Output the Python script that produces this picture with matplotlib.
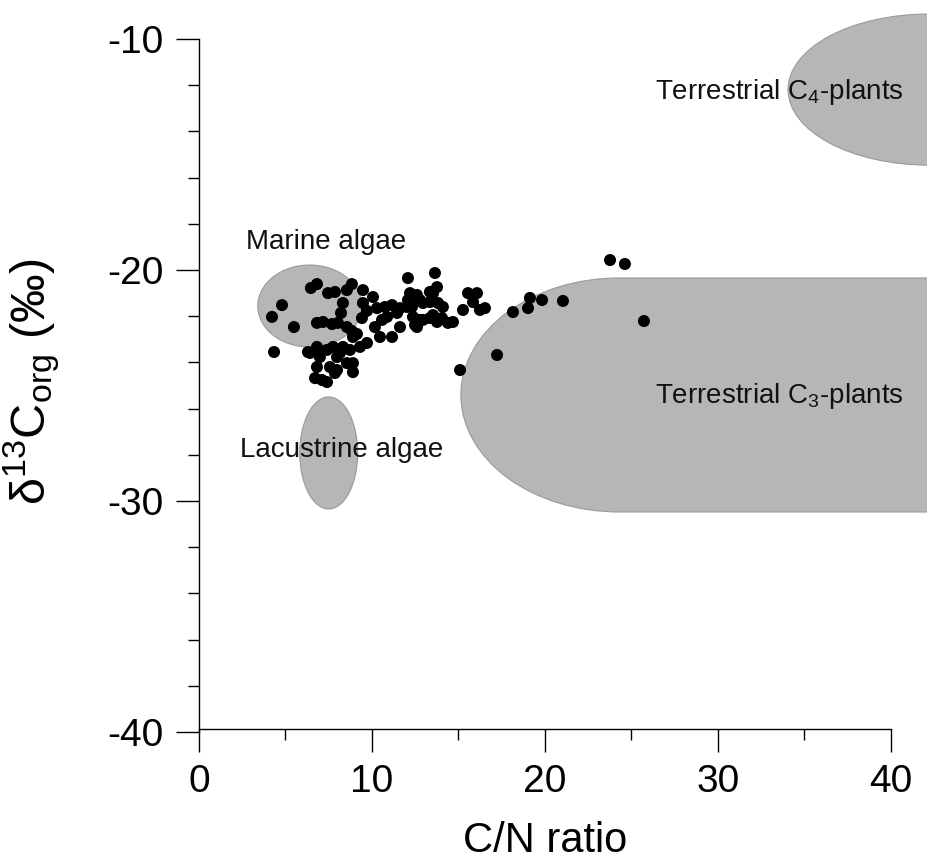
import matplotlib
matplotlib.use("Agg")
import matplotlib.pyplot as plt
from matplotlib.patches import Ellipse, PathPatch
from matplotlib.path import Path
from matplotlib.ticker import MultipleLocator
import numpy as np

plt.rcParams['font.family'] = ['Liberation Sans', 'DejaVu Sans']
plt.rcParams['mathtext.fontset'] = 'custom'
plt.rcParams['mathtext.rm'] = 'Liberation Sans'
plt.rcParams['mathtext.it'] = 'Liberation Sans'
plt.rcParams['axes.unicode_minus'] = False

# C/N ratio and d13C of the samples
cn_ratio = [
    6.47, 6.82, 4.80, 4.22, 5.49, 4.34, 7.46, 7.86, 8.84, 8.55,
    8.32, 8.21, 8.03, 6.82, 7.17, 7.69, 8.55, 8.84, 9.13, 9.48,
    9.48, 9.71, 9.42, 10.06, 10.29, 10.58, 10.17, 10.46, 8.90, 9.71,
    10.75, 11.16, 11.62, 12.02, 12.31, 10.87, 11.45, 12.08, 13.64, 12.20,
    12.08, 12.77, 13.35, 13.76, 13.53, 13.35, 12.95, 12.60, 12.37, 12.37,
    12.77, 13.53, 13.82, 14.10, 14.05, 13.76, 13.35, 12.95, 12.49, 14.39,
    14.68, 11.62, 11.16, 12.60, 15.55, 16.07, 15.84, 15.26, 16.24, 16.53,
    18.15, 17.23, 15.09, 19.13, 19.02, 19.83, 21.04, 23.76, 24.62, 25.72,
    6.42, 6.82, 6.99, 7.40, 7.75, 8.15, 8.55, 8.90, 6.82, 6.71,
    7.40, 7.98, 8.32, 8.73, 9.31, 7.57, 7.86, 8.90, 6.30, 7.11,
    7.98,
]
d13c = [
    -20.78, -20.61, -21.52, -22.03, -22.47, -23.55, -21.00, -20.95, -20.61, -20.87,
    -21.43, -21.86, -22.29, -22.29, -22.25, -22.34, -22.47, -22.64, -22.77, -20.87,
    -21.43, -21.77, -22.08, -21.17, -21.65, -22.16, -22.47, -22.90, -22.90, -23.16,
    -21.60, -21.52, -21.65, -21.60, -21.60, -22.03, -21.86, -20.35, -20.13, -21.00,
    -21.30, -21.30, -20.95, -20.74, -21.00, -21.39, -21.43, -21.08, -21.43, -22.03,
    -22.16, -21.95, -21.43, -21.60, -22.08, -22.25, -22.08, -22.16, -22.38, -22.29,
    -22.25, -22.47, -22.90, -22.47, -21.00, -21.00, -21.39, -21.73, -21.73, -21.65,
    -21.82, -23.68, -24.33, -21.21, -21.65, -21.30, -21.34, -19.57, -19.74, -22.21,
    -23.59, -23.33, -23.77, -23.46, -23.33, -23.59, -24.03, -24.42, -24.20, -24.68,
    -24.85, -24.33, -23.33, -23.46, -23.33, -24.20, -24.46, -24.03, -23.55, -24.76,
    -23.77,
]

# source fields: name, label position
field_labels = ["Marine algae", "Lacustrine algae",
                "Terrestrial C$_{4}$-plants", "Terrestrial C$_{3}$-plants"]
label_x = [7.37, 8.27, 26.36, 26.36]
label_y = [-18.79, -27.79, -12.29, -25.45]

x_major = [0, 10, 20, 30, 40]
y_major = [-40, -30, -20, -10]

fill = '#b6b6b6'
edge = '#9a9a9a'

fig = plt.figure(figsize=(9.28, 8.66), dpi=100)
ax = fig.add_axes([0.2144, 0.1547, 0.7845, 0.8323])
ax.set_xlim(0, 42.08)
ax.set_ylim(-40, -8.8)

# marine, lacustrine and C4 fields
ax.add_patch(Ellipse((6.4, -21.56), 6.0, 3.55, fc=fill, ec=edge, lw=0.8, zorder=1))
ax.add_patch(Ellipse((7.5, -27.92), 3.35, 4.85, fc=fill, ec=edge, lw=0.8, zorder=1))
ax.add_patch(Ellipse((42.2, -12.19), 16.3, 6.54, fc=fill, ec=edge, lw=0.8, zorder=1))

# C3 field: half ellipse on the left, open box to the right
cx, cy, rx, ry = 24.3, -25.41, 9.16, 5.065
arc = Path.arc(90, 270)
verts = [(cx + rx * vx, cy + ry * vy) for vx, vy in arc.vertices]
verts += [(45, cy - ry), (45, cy + ry), (cx, cy + ry)]
codes = list(arc.codes) + [Path.LINETO, Path.LINETO, Path.CLOSEPOLY]
ax.add_patch(PathPatch(Path(verts, codes), fc=fill, ec=edge, lw=0.8, zorder=1))

ax.scatter(cn_ratio, d13c, s=75, c='black', edgecolors='none', zorder=3)

for txt, lx, ly in zip(field_labels, label_x, label_y):
    ha = 'left' if lx > 20 else 'center'
    ax.text(lx, ly, txt, fontsize=20, ha=ha, va='center', color='#111111', zorder=4)

for side in ['top', 'right']:
    ax.spines[side].set_visible(False)
ax.spines['left'].set_bounds(-40, -10)
ax.spines['bottom'].set_bounds(0, 40)
ax.spines['bottom'].set_position(('data', -39.87))
for side in ['left', 'bottom']:
    ax.spines[side].set_linewidth(1.0)

ax.set_xticks(x_major)
ax.set_yticks(y_major)
ax.xaxis.set_minor_locator(MultipleLocator(5))
ax.yaxis.set_minor_locator(MultipleLocator(2))
ax.tick_params(which='major', direction='out', length=16.5, width=1.0, labelsize=28, pad=9)
ax.tick_params(which='minor', direction='out', length=8, width=1.0)

ax.set_xlabel('C/N ratio', fontsize=30)
ax.set_ylabel('δ$^{13}$C$_{org}$ (‰)', fontsize=35)
ax.xaxis.set_label_coords(0.475, -0.124)
ax.yaxis.set_label_coords(-0.188, 0.486)
ax.xaxis.label.set_va('top')

fig.savefig('out.png', dpi=100)
